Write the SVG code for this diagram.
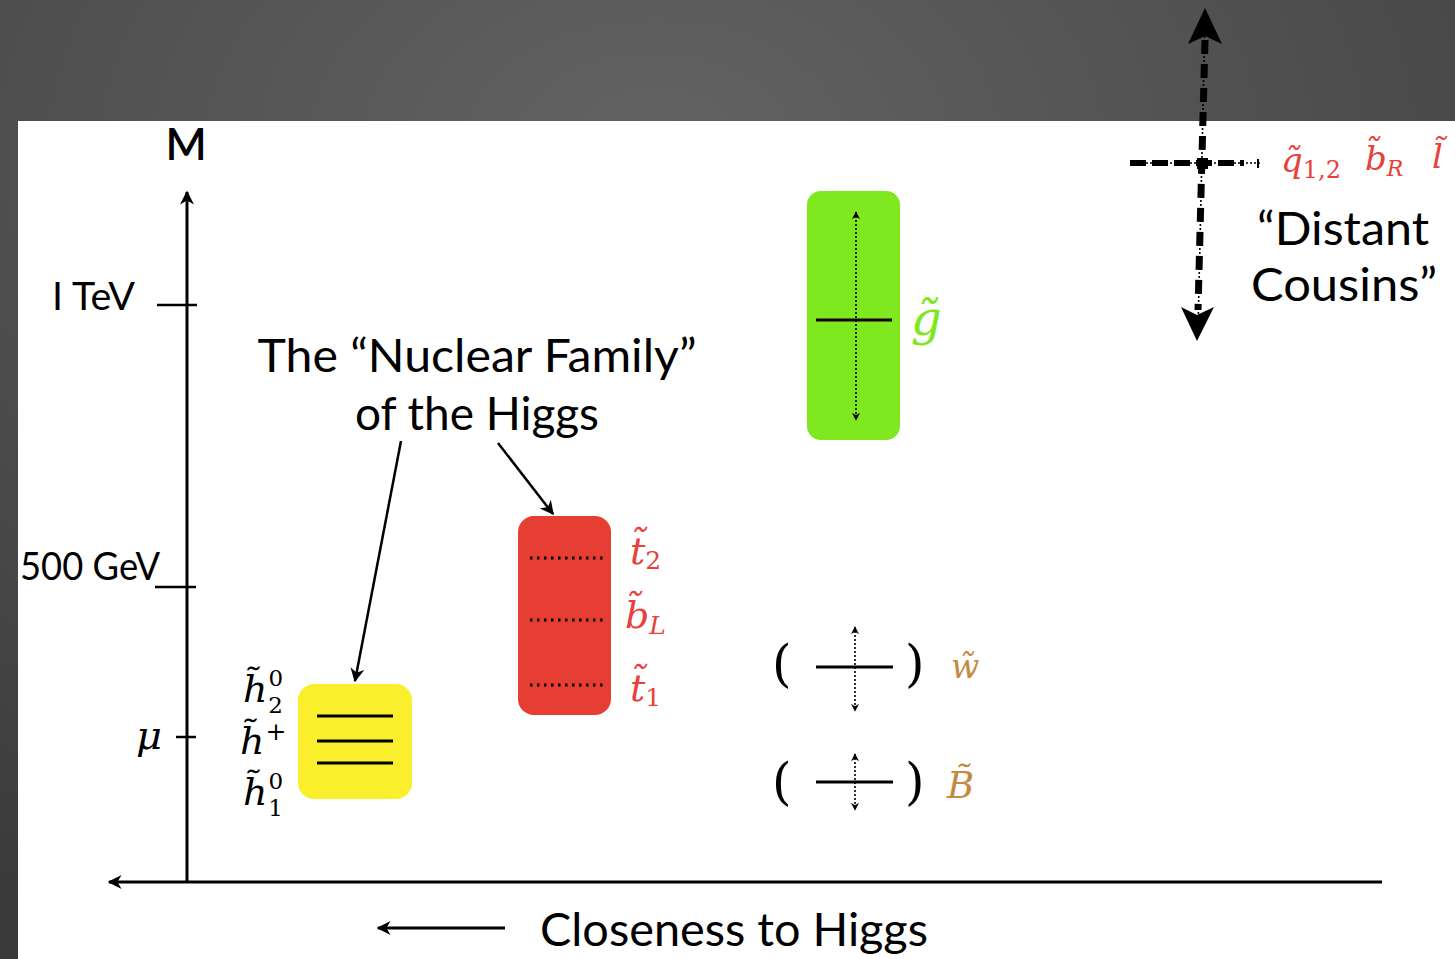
<svg xmlns="http://www.w3.org/2000/svg" width="1455" height="959" viewBox="0 0 1455 959">
<defs>
<radialGradient id="bg" cx="0.45" cy="0.15" r="0.9">
<stop offset="0" stop-color="#636363"/>
<stop offset="1" stop-color="#3a3a3a"/>
</radialGradient>
<marker id="ahb" viewBox="0 0 10 10" refX="9" refY="5" markerWidth="14" markerHeight="14" orient="auto-start-reverse" markerUnits="userSpaceOnUse">
<path d="M0,0 L10,5 L0,10 L3,5 Z" fill="#000"/>
</marker>
<marker id="ahs" viewBox="0 0 10 10" refX="9" refY="5" markerWidth="8" markerHeight="8" orient="auto-start-reverse" markerUnits="userSpaceOnUse">
<path d="M0,0 L10,5 L0,10 L3,5 Z" fill="#000"/>
</marker>
</defs>
<style>
.sans{font-family:Lato,"Open Sans","Liberation Sans",sans-serif;fill:#000}
.math{font-family:"DejaVu Serif","Liberation Serif",serif;font-style:italic}
.up{font-style:normal}
.axis{stroke:#000;stroke-width:3;fill:none}
.tick{stroke:#000;stroke-width:2.5}
.lvl{stroke:#000;stroke-width:3}
.dot{stroke:#000;stroke-width:3;stroke-dasharray:2.5 4.5}
.vdot{stroke:#000;stroke-width:1.6;stroke-dasharray:2 2}
.red{fill:#e8413a}
.brn{fill:#c38a44}
.grn{fill:#7de81c}
</style>
<rect width="1455" height="959" fill="url(#bg)"/>
<rect x="18" y="121" width="1437" height="838" fill="#fff"/>

<g id="axes">
<line class="axis" x1="187" y1="882" x2="187" y2="192" marker-end="url(#ahb)"/>
<line class="axis" x1="1382" y1="882" x2="109" y2="882" marker-end="url(#ahb)"/>
<line class="tick" x1="157" y1="305" x2="197" y2="305"/>
<line class="tick" x1="155" y1="587" x2="196" y2="587"/>
<line class="tick" x1="176" y1="737" x2="196" y2="737"/>
<text class="sans" x="186" y="160" font-size="44" font-weight="600" text-anchor="middle">M</text>
<text class="sans" x="52" y="310" font-size="38" textLength="83" lengthAdjust="spacingAndGlyphs">I TeV</text>
<text class="sans" x="20" y="580" font-size="38" textLength="140" lengthAdjust="spacingAndGlyphs">500 GeV</text>
<text class="math" x="136" y="749" font-size="40">μ</text>
</g>

<g id="title">
<text class="sans" x="477" y="372" font-size="46" text-anchor="middle" textLength="439" lengthAdjust="spacingAndGlyphs">The “Nuclear Family”</text>
<text class="sans" x="477" y="430" font-size="46" text-anchor="middle" textLength="244" lengthAdjust="spacingAndGlyphs">of the Higgs</text>
</g>

<g id="connectors">
<line stroke="#000" stroke-width="2.5" x1="401" y1="441" x2="355" y2="681" marker-end="url(#ahb)"/>
<line stroke="#000" stroke-width="2.5" x1="498" y1="443" x2="553" y2="514" marker-end="url(#ahb)"/>
</g>

<g id="higgsinos">
<rect x="298" y="684" width="114" height="115" rx="16" fill="#f9ef2c"/>
<line class="lvl" x1="317" y1="716" x2="393" y2="716"/>
<line class="lvl" x1="317" y1="741" x2="393" y2="741"/>
<line class="lvl" x1="317" y1="763" x2="393" y2="763"/>
<text class="math" x="243" y="702" font-size="38">h̃<tspan class="up" font-size="23" dx="1" dy="-16">0</tspan><tspan class="up" font-size="23" dx="-15" dy="27">2</tspan></text>
<text class="math" x="240" y="754" font-size="38">h̃<tspan class="up" font-size="25" dx="1" dy="-14">+</tspan></text>
<text class="math" x="243" y="805" font-size="38">h̃<tspan class="up" font-size="23" dx="1" dy="-16">0</tspan><tspan class="up" font-size="23" dx="-15" dy="27">1</tspan></text>
</g>

<g id="stops">
<rect x="518" y="516" width="93" height="199" rx="16" fill="#e63e32"/>
<line class="dot" x1="530" y1="558" x2="606" y2="558"/>
<line class="dot" x1="530" y1="620" x2="606" y2="620"/>
<line class="dot" x1="530" y1="685" x2="606" y2="685"/>
<text class="math red" x="630" y="564" font-size="38">t̃<tspan class="up" font-size="25" dy="5">2</tspan></text>
<text class="math red" x="625" y="628" font-size="38">b̃<tspan font-size="25" dy="6">L</tspan></text>
<text class="math red" x="630" y="701" font-size="38">t̃<tspan class="up" font-size="25" dy="5">1</tspan></text>
</g>

<g id="gluino">
<rect x="807" y="191" width="93" height="249" rx="14" fill="#7fe81e"/>
<line class="lvl" x1="816" y1="320" x2="892" y2="320"/>
<line class="vdot" x1="856" y1="212" x2="856" y2="420" marker-start="url(#ahs)" marker-end="url(#ahs)"/>
<text class="math grn" x="911" y="335" font-size="48">g̃</text>
</g>

<g id="wino">
<text class="math up" x="772" y="681" font-size="50">(</text>
<text class="math up" x="905" y="681" font-size="50">)</text>
<line class="lvl" x1="816" y1="667" x2="893" y2="667"/>
<line class="vdot" x1="855" y1="627" x2="855" y2="711" marker-start="url(#ahs)" marker-end="url(#ahs)"/>
<text class="math brn" x="951" y="678" font-size="33">w̃</text>
</g>

<g id="bino">
<text class="math up" x="772" y="799" font-size="50">(</text>
<text class="math up" x="905" y="799" font-size="50">)</text>
<line class="lvl" x1="816" y1="782" x2="893" y2="782"/>
<line class="vdot" x1="855" y1="754" x2="855" y2="810" marker-start="url(#ahs)" marker-end="url(#ahs)"/>
<text class="math brn" x="947" y="798" font-size="37">B̃</text>
</g>

<g id="cousins">
<line stroke="#000" stroke-width="1.6" stroke-dasharray="2 2" x1="1205" y1="20" x2="1198" y2="330"/>
<line stroke="#000" stroke-width="7" stroke-dasharray="14 10" x1="1205" y1="40" x2="1198" y2="310"/>
<path d="M1205,8 L1222,44 L1205,36 L1188,44 Z" fill="#000"/>
<path d="M1197,341 L1181,307 L1197,315 L1214,307 Z" fill="#000"/>
<line stroke="#000" stroke-width="1.6" stroke-dasharray="2 2" x1="1130" y1="163" x2="1260" y2="163"/>
<line stroke="#000" stroke-width="6" stroke-dasharray="16 6" x1="1130" y1="163" x2="1244" y2="163"/>
<rect x="1197" y="158" width="11" height="11" fill="#000"/>
<line stroke="#000" stroke-width="2" x1="1258" y1="159" x2="1258" y2="168"/>
<text class="math red" x="1281" y="172" font-size="34">q̃<tspan class="up" font-size="24" dy="6">1,2</tspan></text>
<text class="math red" x="1365" y="170" font-size="34">b̃<tspan font-size="22" dy="6">R</tspan></text>
<text class="math red" x="1432" y="168" font-size="34">l̃</text>
<text class="sans" x="1257" y="245" font-size="46" textLength="172" lengthAdjust="spacingAndGlyphs">“Distant</text>
<text class="sans" x="1251" y="301" font-size="46" textLength="186" lengthAdjust="spacingAndGlyphs">Cousins”</text>
</g>

<g id="xlabel">
<line stroke="#000" stroke-width="3" x1="505" y1="928" x2="378" y2="928" marker-end="url(#ahb)"/>
<text class="sans" x="540" y="946" font-size="46" textLength="388" lengthAdjust="spacingAndGlyphs">Closeness to Higgs</text>
</g>
</svg>
